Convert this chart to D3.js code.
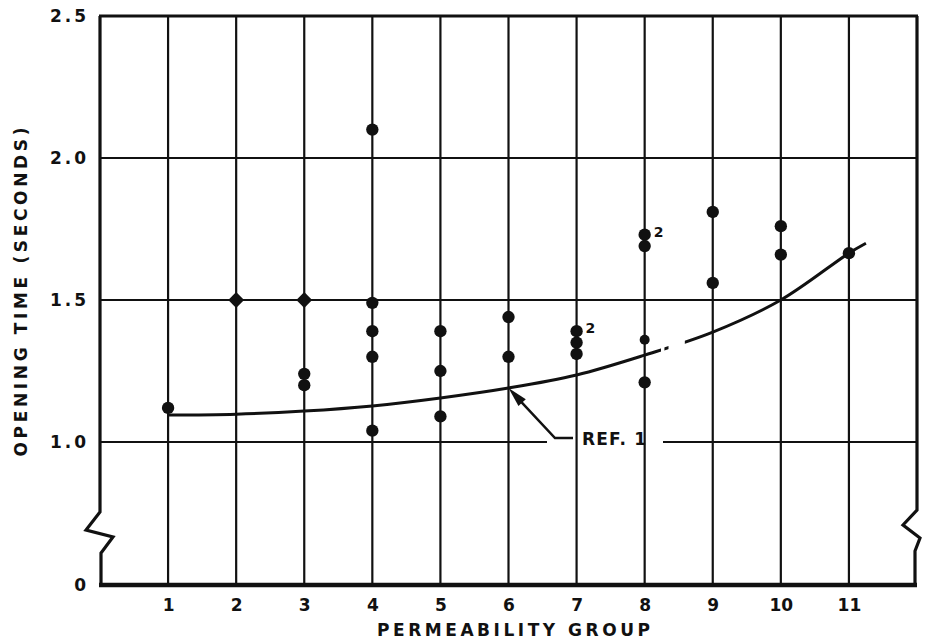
<!DOCTYPE html>
<html>
<head>
<meta charset="utf-8">
<script src="https://cdn.jsdelivr.net/npm/d3@7"></script>
<style>
    body { margin: 0; background: #fff; }
    svg text { font-family: "DejaVu Sans", sans-serif; font-weight: bold; fill: #111; }
</style>
</head>
<body>
<svg id="chart" width="927" height="644"></svg>
<script>
// permeability groups and tick labels
const groups = [1, 2, 3, 4, 5, 6, 7, 8, 9, 10, 11];
const groupLabels = ['1', '2', '3', '4', '5', '6', '7', '8', '9', '10', '11'];
const timeTicks = [0, 1.0, 1.5, 2.0, 2.5];
const timeTickLabels = ['0', '1.0', '1.5', '2.0', '2.5'];

// measured opening times
const pointGroup = [1, 2, 3, 3, 3, 4, 4, 4, 4, 4, 5, 5, 5, 6, 6, 7, 7, 7, 8, 8, 8, 9, 9, 10, 10, 11];
const pointTime = [1.12, 1.50, 1.50, 1.24, 1.20, 2.10, 1.49, 1.39, 1.30, 1.04, 1.39, 1.25, 1.09,
    1.44, 1.30, 1.39, 1.35, 1.31, 1.73, 1.69, 1.21, 1.81, 1.56, 1.76, 1.66, 1.665];

// faint half point on group 8
const faintGroup = [8];
const faintTime = [1.36];

// repeated-point counts
const countGroup = [7, 8];
const countTime = [1.39, 1.73];
const countLabel = ['2', '2'];

// REF. 1 curve
const refGroup = [1, 2, 3, 4, 5, 6, 7, 8, 9, 10, 11, 11.25];
const refTime = [1.095, 1.098, 1.109, 1.127, 1.155, 1.19, 1.236, 1.306, 1.387, 1.50, 1.665, 1.70];

const svg = d3.select('#chart');
const plotLeft = 100, plotRight = 917, plotTop = 16, plotBottom = 585;

const x = d3.scaleLinear().domain([0, 12]).range([plotLeft, plotRight]);
// broken axis: 0 to 1.0 is squeezed
const y = d3.scaleLinear().domain([0, 1, 2.5]).range([plotBottom, 442, plotTop]);

// horizontal grid
svg.append('g')
    .selectAll('line')
    .data([1.0, 1.5, 2.0])
    .enter()
    .append('line')
    .attr('x1', plotLeft).attr('x2', plotRight)
    .attr('y1', d => y(d)).attr('y2', d => y(d))
    .attr('stroke', '#111').attr('stroke-width', 2.2);

// white gap behind the REF. 1 label
svg.append('rect')
    .attr('x', 547).attr('y', y(1.0) - 9)
    .attr('width', 116).attr('height', 16)
    .attr('fill', '#fff');

// vertical grid
svg.append('g')
    .selectAll('line')
    .data(groups)
    .enter()
    .append('line')
    .attr('x1', d => x(d)).attr('x2', d => x(d))
    .attr('y1', y(0)).attr('y2', y(2.5))
    .attr('stroke', '#111').attr('stroke-width', 2.2);

// frame with break marks
const bTop = y.invert(512), bBot = y.invert(553);
const leftFrame = [[plotLeft, y(2.5)], [plotLeft, y(bTop)], [plotLeft - 14, 530], [plotLeft + 13, 537], [plotLeft + 1, y(bBot)], [plotLeft + 1, y(0)]];
const rightFrame = [[plotRight, y(2.5)], [plotRight, 510], [plotRight - 14, 525], [plotRight + 3, 538], [plotRight - 2, 551], [plotRight - 2, y(0)]];
svg.append('path').attr('d', d3.line()(leftFrame))
    .attr('fill', 'none').attr('stroke', '#111').attr('stroke-width', 3.2);
svg.append('path').attr('d', d3.line()(rightFrame))
    .attr('fill', 'none').attr('stroke', '#111').attr('stroke-width', 3.2);
svg.append('line')
    .attr('x1', plotLeft - 1).attr('x2', plotRight + 1)
    .attr('y1', y(2.5)).attr('y2', y(2.5))
    .attr('stroke', '#111').attr('stroke-width', 3.2);
svg.append('line')
    .attr('x1', plotLeft - 1).attr('x2', plotRight)
    .attr('y1', y(0)).attr('y2', y(0))
    .attr('stroke', '#111').attr('stroke-width', 4.5);

// axes (labels only)
const yAxis = svg.append('g')
    .attr('transform', `translate(${plotLeft - 8},0)`)
    .call(d3.axisLeft(y).tickValues(timeTicks).tickSize(0).tickFormat((d, i) => timeTickLabels[i]));
yAxis.select('.domain').remove();
yAxis.selectAll('text')
    .style('font-size', '17px')
    .style('letter-spacing', '3px')
    .attr('dy', '0.35em');

const xAxis = svg.append('g')
    .attr('transform', `translate(0,${y(0) + 11})`)
    .call(d3.axisBottom(x).tickValues(groups).tickSize(0).tickFormat((d, i) => groupLabels[i]));
xAxis.select('.domain').remove();
xAxis.selectAll('text')
    .style('font-size', '17px')
    .attr('dy', '0.71em');

// axis titles
svg.append('text')
    .attr('x', (377 + 650) / 2).attr('y', 636)
    .attr('text-anchor', 'middle')
    .attr('textLength', 273).attr('lengthAdjust', 'spacing')
    .style('font-size', '17px')
    .text('PERMEABILITY GROUP');

svg.append('text')
    .attr('transform', 'translate(27,292) rotate(-90)')
    .attr('text-anchor', 'middle')
    .attr('textLength', 329).attr('lengthAdjust', 'spacing')
    .style('font-size', '17px')
    .text('OPENING TIME (SECONDS)');

// REF. 1 curve, with the faded break near group 8
const clip = svg.append('clipPath').attr('id', 'refclip');
[[0, 8.24], [8.29, 8.35], [8.59, 12]].forEach(([a, b]) => {
    clip.append('rect').attr('x', x(a)).attr('y', 0).attr('width', x(b) - x(a)).attr('height', 644);
});
const refLine = d3.line()
    .x((d, i) => x(refGroup[i]))
    .y(d => y(d))
    .curve(d3.curveCatmullRom);
svg.append('path')
    .datum(refTime)
    .attr('d', refLine)
    .attr('clip-path', 'url(#refclip)')
    .attr('fill', 'none')
    .attr('stroke', '#111')
    .attr('stroke-width', 3);

// data points (square diamond when sitting on a grid line)
svg.append('g')
    .selectAll('path')
    .data(pointTime)
    .enter()
    .append('path')
    .attr('transform', (d, i) => `translate(${x(pointGroup[i])},${y(d)})` + (d === 1.5 ? ' rotate(45)' : ''))
    .attr('d', d => d3.symbol().type(d === 1.5 ? d3.symbolSquare : d3.symbolCircle).size(d === 1.5 ? 125 : 120)())
    .attr('fill', '#111');

svg.append('g')
    .selectAll('circle')
    .data(faintTime)
    .enter()
    .append('circle')
    .attr('cx', (d, i) => x(faintGroup[i]))
    .attr('cy', d => y(d))
    .attr('r', 5)
    .attr('fill', '#111');

svg.append('g')
    .selectAll('text')
    .data(countTime)
    .enter()
    .append('text')
    .attr('x', (d, i) => x(countGroup[i]) + 9)
    .attr('y', d => y(d) + 2)
    .style('font-size', '14px')
    .text((d, i) => countLabel[i]);

// REF. 1 leader and arrow
const tipX = x(6), tipY = y(1.19);
const kneeX = 555, kneeY = y(1.0) - 4;
svg.append('path')
    .attr('d', d3.line()([[573, kneeY], [kneeX, kneeY], [tipX + 12, tipY + 13]]))
    .attr('fill', 'none').attr('stroke', '#111').attr('stroke-width', 2.5);
const ang = Math.atan2(kneeY - tipY, kneeX - tipX);
const len = 20, half = 5;
const bx = tipX + len * Math.cos(ang), by = tipY + len * Math.sin(ang);
svg.append('path')
    .attr('d', d3.line()([
        [tipX, tipY],
        [bx + half * Math.sin(ang), by - half * Math.cos(ang)],
        [bx - half * Math.sin(ang), by + half * Math.cos(ang)]
    ]) + 'Z')
    .attr('fill', '#111');

svg.append('text')
    .attr('x', 582).attr('y', y(1.0) + 3)
    .attr('textLength', 64).attr('lengthAdjust', 'spacing')
    .style('font-size', '17px')
    .text('REF. 1');
</script>
</body>
</html>
